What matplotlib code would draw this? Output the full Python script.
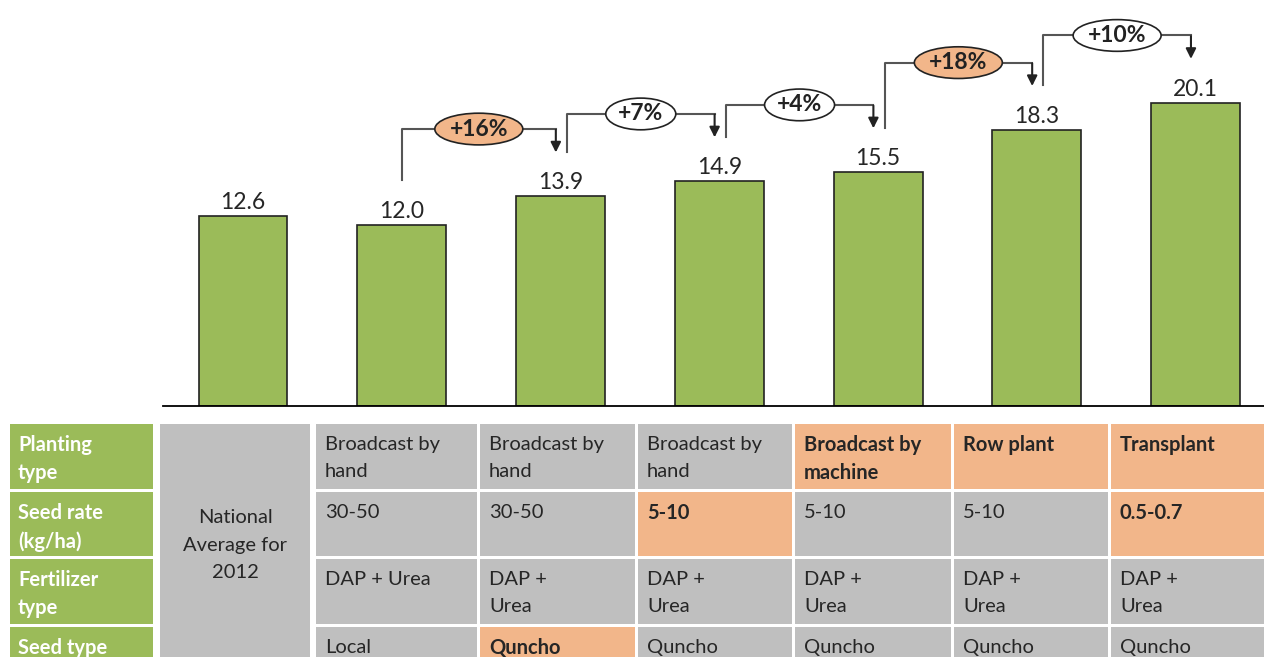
import matplotlib.pyplot as plt
from matplotlib.patches import Rectangle, Ellipse

plt.rcParams['font.family'] = ['Lato', 'DejaVu Sans']

# yield per scenario (bars)
yields = [12.6, 12.0, 13.9, 14.9, 15.5, 18.3, 20.1]
# step changes between consecutive bars, starting from bar 1
changes = ['+16%', '+7%', '+4%', '+18%', '+10%']
change_hl = [True, False, False, True, False]

# table below the bars
row_labels = ['Planting\ntype', 'Seed rate\n(kg/ha)', 'Fertilizer\ntype', 'Seed type']
national = 'National\nAverage for\n2012'
planting = ['Broadcast by\nhand', 'Broadcast by\nhand', 'Broadcast by\nhand',
            'Broadcast by\nmachine', 'Row plant', 'Transplant']
seed_rate = ['30-50', '30-50', '5-10', '5-10', '5-10', '0.5-0.7']
fertilizer = ['DAP + Urea', 'DAP +\nUrea', 'DAP +\nUrea', 'DAP +\nUrea', 'DAP +\nUrea', 'DAP +\nUrea']
seed_type = ['Local', 'Quncho', 'Quncho', 'Quncho', 'Quncho', 'Quncho']
planting_hl = [0, 0, 0, 1, 1, 1]
seed_rate_hl = [0, 0, 1, 0, 0, 1]
fertilizer_hl = [0, 0, 0, 0, 0, 0]
seed_type_hl = [0, 1, 0, 0, 0, 0]

GREEN = '#9BBB59'
ORANGE = '#F2B68A'
GREY = '#BFBFBF'
W, H = 1264, 657

fig = plt.figure(figsize=(W / 100, H / 100), dpi=100)

# ---- table (pixel coordinates) ----
tab = fig.add_axes([0, 0, 1, 1])
tab.set_xlim(0, W)
tab.set_ylim(H, 0)
tab.axis('off')

rows = [(424, 489), (492, 556), (559, 624), (627, 700)]
cols = [(316, 477), (480, 635), (638, 792), (795, 951), (954, 1108), (1111, 1270)]
cells = [planting, seed_rate, fertilizer, seed_type]
hls = [planting_hl, seed_rate_hl, fertilizer_hl, seed_type_hl]
LS_REG = 1.745   # Lato regular / bold have different line metrics
LS_BOLD = 1.51

for (y0, y1), lab in zip(rows, row_labels):
    tab.add_patch(Rectangle((10, y0), 143, y1 - y0, color=GREEN, lw=0))
    tab.text(18, y0 + 11, lab, color='white', fontweight='bold', fontsize=14.5,
             va='top', ha='left', linespacing=LS_BOLD)

tab.add_patch(Rectangle((160, 424), 150, 300, color=GREY, lw=0))
tab.text(235, 545, national, fontsize=14.5, ha='center', va='center',
         color='#262626', linespacing=LS_REG)

for (y0, y1), texts, hl in zip(rows, cells, hls):
    for (x0, x1), t, h in zip(cols, texts, hl):
        tab.add_patch(Rectangle((x0, y0), x1 - x0, y1 - y0,
                                color=ORANGE if h else GREY, lw=0))
        tab.text(x0 + 9, y0 + (11 if h else 12), t, fontsize=14.5, va='top', ha='left',
                 color='#262626', fontweight='bold' if h else 'normal',
                 linespacing=LS_BOLD if h else LS_REG)

# ---- bars ----
ax = fig.add_axes([163 / W, (H - 406) / H, (W - 163) / W, 406 / H])
ax.patch.set_alpha(0)
x = list(range(len(yields)))
ax.bar(x, yields, width=0.56, color=GREEN, edgecolor='#222222', linewidth=1.2)
ax.set_xlim(-0.504, 6.43)
ax.set_ylim(0, 26.9)
for s in ['top', 'left', 'right']:
    ax.spines[s].set_visible(False)
ax.spines['bottom'].set_linewidth(1.3)
ax.set_xticks([])
ax.set_yticks([])

for xi, v in zip(x, yields):
    ax.annotate(f'{v:.1f}', (xi, v), xytext=(0, 5), textcoords='offset points',
                ha='center', va='baseline', fontsize=16.5, color='#262626')

# step brackets
for i, (lab, hl) in enumerate(zip(changes, change_hl)):
    a, b = i + 1, i + 2
    xl = a + (0.0 if i == 0 else 0.04)
    xr = b - 0.03
    level = max(yields[a], yields[b]) + 4.45
    ax.plot([xl, xl, xr], [yields[a] + 2.95, level, level], color='#555555', lw=1.5)
    ax.annotate('', xy=(xr, yields[b] + 2.9), xytext=(xr, level - 0.05),
                arrowprops=dict(arrowstyle='-|>', color='#222222', lw=1.5,
                                shrinkA=0, shrinkB=0, mutation_scale=15))
    xm = (xl + xr) / 2
    wd = (88 if len(lab) > 3 else 70) / 158.8
    ax.add_patch(Ellipse((xm, level), wd, 2.1, facecolor=ORANGE if hl else 'white',
                         edgecolor='#222222', lw=1.2, zorder=3))
    ax.text(xm, level, lab, ha='center', va='center', fontsize=16.5,
            fontweight='bold', color='#222222', zorder=4)

fig.savefig('out.png', dpi=100)
